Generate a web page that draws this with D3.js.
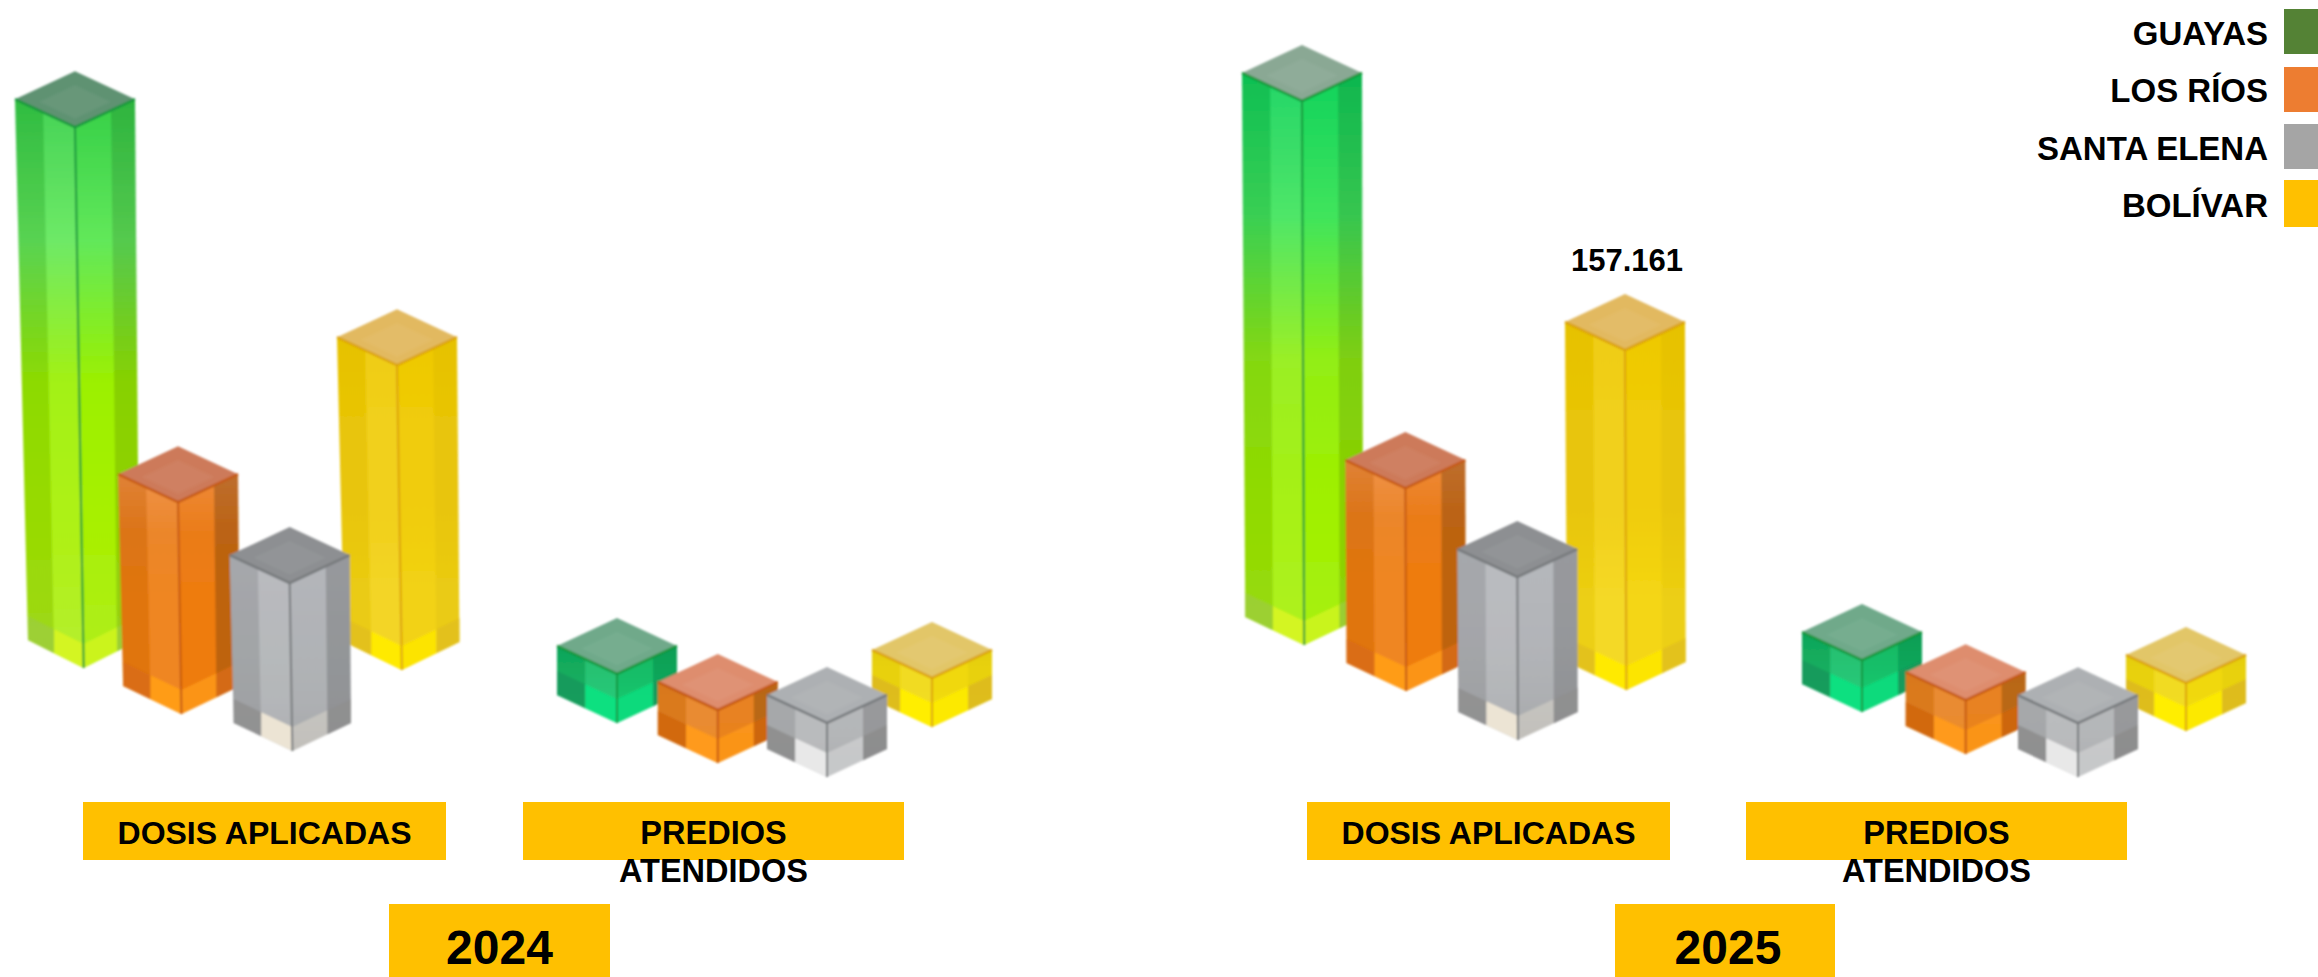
<html lang='en'>
<head>
   <meta charset='UTF-8'>
   <script src='https://d3js.org/d3.v7.min.js'></script>
   <style>
      html,body{ margin:0; padding:0; background:white; overflow:hidden; }
      text{ font-family:'Liberation Sans',Arial,sans-serif; font-weight:bold; fill:black; }
   </style>
</head>
<body>
   <div id='tavola'></div>
   <script>
   // values, only the 157.161 is printed there
   const regions = ['GUAYAS','LOS RÍOS','SANTA ELENA','BOLÍVAR'];
   const years = ['2024','2025'];
   const measures = ['DOSIS APLICADAS','PREDIOS ATENDIDOS'];
   const dosis2024 = [250000,97900,77600,140900];
   const predios2024 = [22700,24500,25000,22700];
   const dosis2025 = [251500,93800,75300,157161];
   const predios2025 = [24000,24900,24900,22200];
   const printedValue = 157161;

   // places of the blocks on the floor: sideways, and how far forward
   const columns = [0,0.96,2,3];
   const rowsDosis2024 = [0,46,83,2];
   const rowsPredios2024 = [0,40,54,4];
   const rowsDosis2025 = [0,46,95,45];
   const rowsPredios2025 = [0,42,65,19];

   const legendColors = ['#548235','#ED7D31','#A5A5A5','#FFC000'];
   const labelColor = '#FFC000';

   // top to bottom of the lit body
   const bodyTall = [['#35cf48','#62e85a','#9cf000','#a8f000','#b0ee20'],['#ee8a3a','#ea7c18','#ee7c10','#ee7c10','#ee7c10'],['#b4b7bb','#b2b4b8','#b0b3b6','#aeb0b3','#a6a8aa'],['#eec800','#f0cc08','#f0cc08','#f2d214','#f2d214']];
   const bodyTall25 = [['#10d25c','#40e45c','#92ee14','#a0f000','#a8f010'],['#ee8a3a','#ea7c18','#ee7c10','#ee7c10','#ee7c10'],['#b4b7bb','#b4b6ba','#b2b4b8','#aeb0b3','#a6a8aa'],['#eec800','#f0cc08','#f0cc08','#f4d614','#f4d614']];
   const bodySmall = [['#12b462','#14bc66','#14c06a','#14c86e','#14c86e'],['#e67f20','#e88220','#e88220','#ea8418','#ea8418'],['#b5b7b9','#b5b7b9','#b4b6b8','#b0b2b4','#b0b2b4'],['#ecd410','#f0d810','#f0d810','#f2dc10','#f2dc10']];
   const topTall = ['#5f9272','#cd7a5a','#8d8f92','#e2b960'];
   const topTall25 = ['#8aa894','#cd7a5a','#8d8f92','#e2b960'];
   const topSmall = ['#6fa98a','#de8d6e','#adb0b3','#e2c668'];
   const edgeColors = ['#15963c','#c65a12','#777a7d','#dca30e'];
   const footLit = ['#d4f520','#ff9c18','#ece4d4','#ffea00'];
   const footLitSmall = ['#10e080','#ff9a1a','#e8e8e8','#ffee00'];
   const footDim = ['#9cce3a','#d86c14','#8f8f8f','#e2c020'];
   const footDimSmall = ['#14985a','#d0660f','#8c8c8c','#dcb820'];
   const stripLeft = [0.09,0.06,0.08,0.03];
   const stripRight = [0.13,0.2,0.16,0.03];
   const footRightPane = [0.75,0.75,0.4,0.75];

   const width = 2318, height = 977;
   const halfW = 60, halfD = 28;

   var svg = d3.select('#tavola').append('svg')
      .attr('width',width)
      .attr('height',height);
   var defs = svg.append('defs');
   defs.append('filter').attr('id','soft')
      .attr('x','-5%').attr('y','-5%').attr('width','110%').attr('height','110%')
      .append('feGaussianBlur').attr('stdDeviation',0.8);

   var heightScale = d3.scaleLinear().domain([0,printedValue]).range([0,340]);
   var rowScale = d3.scaleLinear().domain([0,100]).range([0,100]);
   var valueFormat = d3.formatLocale({decimal:',',thousands:'.',grouping:[3],currency:['','']}).format(',d');
   var poly = d3.line().curve(d3.curveLinearClosed);

   function mix(a,b,t){
      return [a[0]+(b[0]-a[0])*t, a[1]+(b[1]-a[1])*t];
   }

   function bodyGradient(id,stops){
      var g = defs.append('linearGradient').attr('id',id)
         .attr('x1',0).attr('y1',0).attr('x2',0).attr('y2',1);
      stops.forEach(function(c,i){
         g.append('stop').attr('offset',i/(stops.length-1)).attr('stop-color',c);
      });
      return 'url(#'+id+')';
   }

   const panels = [
      {id:'d24', values:dosis2024, rows:rowsDosis2024, span:[75,397], floor:668, lean:0.016, body:bodyTall, top:topTall, lit:footLit, dim:footDim, foot:24},
      {id:'p24', values:predios2024, rows:rowsPredios2024, span:[617,932], floor:723, lean:0, body:bodySmall, top:topSmall, lit:footLitSmall, dim:footDimSmall, foot:24},
      {id:'d25', values:dosis2025, rows:rowsDosis2025, span:[1302,1625], floor:645, lean:0.004, body:bodyTall25, top:topTall25, lit:footLit, dim:footDim, foot:24},
      {id:'p25', values:predios2025, rows:rowsPredios2025, span:[1862,2186], floor:712, lean:0, body:bodySmall, top:topSmall, lit:footLitSmall, dim:footDimSmall, foot:24}
   ];

   function drawBlock(g,x,base,h,lean,i,p){
      var L = h*lean;
      var tF = [x,base-h], tL = [x-halfW,base-h-halfD], tR = [x+halfW,base-h-halfD], tB = [x,base-h-2*halfD];
      // the block gets a little narrower towards the floor
      var bF = [x+L,base], bL = [x+L*1.5-halfW,base-halfD], bR = [x+L*0.5+halfW,base-halfD];
      var fill = bodyGradient(p.id+'b'+i,p.body[i]);

      g.append('path').attr('d',poly([tL,tF,bF,bL])).attr('fill',fill);
      g.append('path').attr('d',poly([tF,tR,bR,bF])).attr('fill',fill);

      // darker outer strips, lighter pane next to the front edge
      var sL = 0.47, sR = 0.6;
      g.append('path').attr('d',poly([tL,mix(tL,tF,sL),mix(bL,bF,sL),bL])).attr('fill','black').attr('fill-opacity',stripLeft[i]);
      g.append('path').attr('d',poly([mix(tL,tF,sL),tF,bF,mix(bL,bF,sL)])).attr('fill','white').attr('fill-opacity',0.08);
      g.append('path').attr('d',poly([mix(tF,tR,sR),tR,bR,mix(bF,bR,sR)])).attr('fill','black').attr('fill-opacity',stripRight[i]);

      // foot of the block, the bottom seen through the plastic
      var up = function(pt){ return [pt[0],pt[1]-p.foot]; };
      var mL0 = mix(bL,bF,sL), mR0 = mix(bF,bR,sR);
      g.append('path').attr('d',poly([up(bL),up(mL0),mL0,bL])).attr('fill',p.dim[i]).attr('fill-opacity',0.85);
      g.append('path').attr('d',poly([up(mL0),up(bF),bF,mL0])).attr('fill',p.lit[i]);
      g.append('path').attr('d',poly([up(bF),up(mR0),mR0,bF])).attr('fill',p.lit[i]).attr('fill-opacity',footRightPane[i]);
      g.append('path').attr('d',poly([up(mR0),up(bR),bR,mR0])).attr('fill',p.dim[i]).attr('fill-opacity',0.85);

      // top face with the lighter inside
      g.append('path').attr('d',poly([tB,tR,tF,tL])).attr('fill',p.top[i]);
      var c = mix(tB,tF,0.62);
      g.append('path').attr('d',poly([mix(c,tB,0.6),mix(c,tR,0.6),mix(c,tF,0.6),mix(c,tL,0.6)]))
         .attr('fill','white').attr('fill-opacity',0.05);

      g.append('path').attr('d',d3.line()([tL,tF,tR])).attr('fill','none').attr('stroke',edgeColors[i]).attr('stroke-width',2.5);
      g.append('path').attr('d',d3.line()([tF,bF])).attr('fill','none').attr('stroke',edgeColors[i]).attr('stroke-width',2);
   }

   panels.forEach(function(p){
      var xScale = d3.scaleLinear().domain([0,3]).range(p.span);
      var blocks = svg.append('g').attr('filter','url(#soft)');
      // back row first, the front blocks cover it
      d3.range(regions.length)
         .sort(function(a,b){ return p.rows[a]-p.rows[b]; })
         .forEach(function(i){
            var base = p.floor+rowScale(p.rows[i]);
            drawBlock(blocks.append('g'),xScale(columns[i]),base,heightScale(p.values[i]),p.lean,i,p);
            if (p.values[i]===printedValue){
               svg.append('text')
                  .attr('x',xScale(columns[i])+2)
                  .attr('y',base-heightScale(p.values[i])-2*halfD-23)
                  .attr('text-anchor','middle')
                  .attr('font-size',31)
                  .text(valueFormat(p.values[i]));
            }
         });
   });

   // labels under the blocks
   const measureBoxes = [[83,446],[523,904],[1307,1670],[1746,2127]];
   const yearBoxes = [[389,610],[1615,1835]];

   measureBoxes.forEach(function(b,i){
      svg.append('rect')
         .attr('x',b[0]).attr('y',802)
         .attr('width',b[1]-b[0]).attr('height',58)
         .attr('fill',labelColor);
      var words = i%2===0 ? [measures[0]] : measures[1].split(' ');
      words.forEach(function(w,k){
         svg.append('text')
            .attr('x',(b[0]+b[1])/2).attr('y',844+k*38)
            .attr('text-anchor','middle')
            .attr('font-size',i%2===0 ? 32 : 32.5)
            .text(w);
      });
   });

   yearBoxes.forEach(function(b,i){
      svg.append('rect')
         .attr('x',b[0]).attr('y',904)
         .attr('width',b[1]-b[0]).attr('height',73)
         .attr('fill',labelColor);
      svg.append('text')
         .attr('x',(b[0]+b[1])/2+i*3).attr('y',964)
         .attr('text-anchor','middle')
         .attr('font-size',48)
         .text(years[i]);
   });

   // legend, top right
   const legendTops = [9,67,124,180];
   const legendBottoms = [54,112,169,227];
   const legendBase = [45,102,160,217];
   regions.forEach(function(r,i){
      svg.append('rect')
         .attr('x',2284).attr('y',legendTops[i])
         .attr('width',34).attr('height',legendBottoms[i]-legendTops[i])
         .attr('fill',legendColors[i]);
      svg.append('text')
         .attr('x',2268).attr('y',legendBase[i])
         .attr('text-anchor','end')
         .attr('font-size',33)
         .text(r);
   });
   </script>
</body>
</html>
